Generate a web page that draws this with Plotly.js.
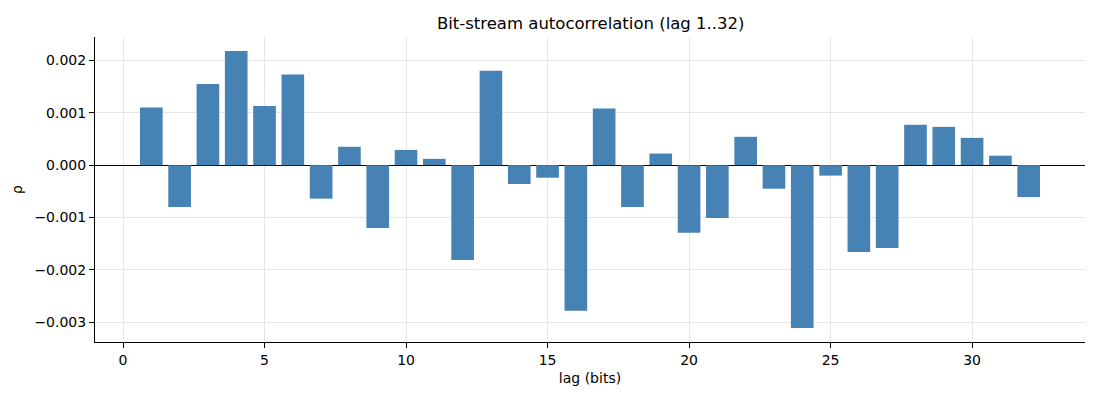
<!DOCTYPE html>
<html>
<head>
<meta charset="utf-8">
<script src="https://cdn.plot.ly/plotly-3.0.1.min.js"></script>
<style>
  html, body { margin: 0; padding: 0; background: #fff; }
  #chart { width: 1100px; height: 400px; }
</style>
</head>
<body>
<div id="chart"></div>
<script>
// lag 1..32 autocorrelation
const lags = [1,2,3,4,5,6,7,8,9,10,11,12,13,14,15,16,17,18,19,20,21,22,23,24,25,26,27,28,29,30,31,32];
const rho = [
  0.00110, -0.00080, 0.00155, 0.00218, 0.00113, 0.00173, -0.00064, 0.00035,
  -0.00120, 0.00029, 0.00012, -0.00181, 0.00180, -0.00036, -0.00024, -0.00278,
  0.00108, -0.00080, 0.00022, -0.00129, -0.00101, 0.00054, -0.00045, -0.00311,
  -0.00020, -0.00166, -0.00158, 0.00077, 0.00073, 0.00052, 0.00018, -0.00061
];
const xTicks = [0, 5, 10, 15, 20, 25, 30];
const yTicks = [-0.003, -0.002, -0.001, 0, 0.001, 0.002];

const FONT = 'DejaVu Sans, sans-serif';

Plotly.newPlot('chart', [{
  type: 'bar',
  x: lags,
  y: rho,
  width: 0.8,
  marker: { color: '#4682b4', line: { width: 0 } },
  hoverinfo: 'x+y',
}], {
  width: 1100,
  height: 400,
  paper_bgcolor: '#fff',
  plot_bgcolor: '#fff',
  font: { family: FONT, size: 14, color: '#000' },
  title: {
    text: 'Bit-stream autocorrelation (lag 1..32)',
    font: { family: FONT, size: 16.5, color: '#000' },
    x: 0.537, xanchor: 'center',
    y: 0.943, yanchor: 'middle',
  },
  margin: { l: 95, r: 15, t: 37, b: 58 },
  showlegend: false,
  xaxis: {
    range: [-0.99, 33.99],
    tickvals: xTicks,
    ticktext: xTicks.map(String),
    tickfont: { size: 14 },
    ticks: 'outside', ticklen: 5, tickwidth: 1, tickcolor: '#000',
    showline: true, linecolor: '#000', linewidth: 1,
    showgrid: true, gridcolor: '#e6e6e6', gridwidth: 1,
    zeroline: false,
    title: { text: 'lag (bits)', font: { family: FONT, size: 14 }, standoff: 6 },
  },
  yaxis: {
    range: [-0.003375, 0.002445],
    tickvals: yTicks,
    tickformat: '.3f',
    tickfont: { size: 14 },
    ticks: 'outside', ticklen: 5, tickwidth: 1, tickcolor: '#000',
    showline: true, linecolor: '#000', linewidth: 1,
    showgrid: true, gridcolor: '#e6e6e6', gridwidth: 1,
    zeroline: true, zerolinecolor: '#000', zerolinewidth: 1,
    title: { text: 'ρ', font: { family: FONT, size: 14 }, standoff: 8 },
  },
}, { displayModeBar: false });
</script>
</body>
</html>
